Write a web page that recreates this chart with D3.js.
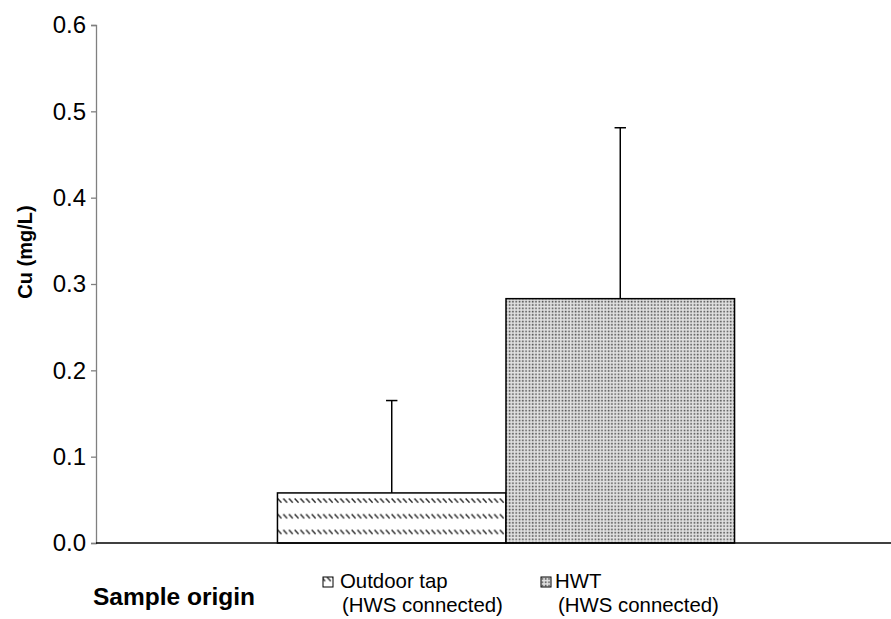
<!DOCTYPE html>
<html>
<head>
<meta charset="utf-8">
<script src="https://cdn.jsdelivr.net/npm/d3@7/dist/d3.min.js"></script>
<style>
  html, body { margin: 0; padding: 0; background: #fff; }
  svg { display: block; font-family: "Liberation Sans", Arial, sans-serif; }
</style>
</head>
<body>
<svg id="chart" width="891" height="619"></svg>
<script>
// Copper concentration by sample origin
const seriesNames = ["Outdoor tap", "HWT"];
const seriesSub = ["(HWS connected)", "(HWS connected)"];
const cuMean = [0.058, 0.283];
const cuSd = [0.107, 0.198];
const yTicks = [0.0, 0.1, 0.2, 0.3, 0.4, 0.5, 0.6];
const groupName = "Sample origin";

(function () {
const svg = d3.select("#chart");
const W = 891;
const mLeft = 96, mTop = 25, mBottom = 543, mRight = 916;

const defs = svg.append("defs");
// backslash dash pattern
const p1 = defs.append("pattern").attr("id", "pat-diag")
  .attr("patternUnits", "userSpaceOnUse").attr("width", 5.7).attr("height", 15.7)
  .attr("x", 277).attr("y", 498);
p1.append("rect").attr("width", 5.7).attr("height", 15.7).attr("fill", "#fff");
p1.append("line").attr("x1", 0.6).attr("y1", 0.5).attr("x2", 4.4).attr("y2", 4.6)
  .attr("stroke", "#2a2a2a").attr("stroke-width", 1.4);
// fine dot pattern
const p2 = defs.append("pattern").attr("id", "pat-dots")
  .attr("patternUnits", "userSpaceOnUse").attr("width", 3.3).attr("height", 3.3);
p2.append("rect").attr("width", 3.3).attr("height", 3.3).attr("fill", "#e2e2e2");
p2.append("rect").attr("x", 0.6).attr("y", 0.6).attr("width", 1.6).attr("height", 1.6).attr("fill", "#505050");
const fills = ["url(#pat-diag)", "url(#pat-dots)"];

const y = d3.scaleLinear().domain([0, 0.6]).range([mBottom, mTop]);
const xGroup = d3.scaleBand().domain([groupName]).range([mLeft, mRight]).paddingOuter(0.397).paddingInner(0);
const xSeries = d3.scaleBand().domain(seriesNames).range([0, xGroup.bandwidth()]).padding(0);
const gx = xGroup(groupName);

// bars
svg.append("g").selectAll("rect").data(seriesNames).join("rect")
  .attr("x", (d) => gx + xSeries(d))
  .attr("y", (d, i) => y(cuMean[i]))
  .attr("width", xSeries.bandwidth())
  .attr("height", (d, i) => y(0) - y(cuMean[i]))
  .attr("fill", (d, i) => fills[i])
  .attr("stroke", "#000").attr("stroke-width", 1.5);

// upper error bars
const eb = svg.append("g").attr("stroke", "#000").attr("stroke-width", 1.5);
seriesNames.forEach((d, i) => {
  const cx = gx + xSeries(d) + xSeries.bandwidth() / 2;
  eb.append("line").attr("x1", cx).attr("x2", cx)
    .attr("y1", y(cuMean[i])).attr("y2", y(cuMean[i] + cuSd[i]));
  eb.append("line").attr("x1", cx - 5.7).attr("x2", cx + 5.7)
    .attr("y1", y(cuMean[i] + cuSd[i])).attr("y2", y(cuMean[i] + cuSd[i]));
});

// y axis
const yAxis = d3.axisLeft(y).tickValues(yTicks).tickFormat(d3.format(".1f")).tickSize(5).tickPadding(5);
const ga = svg.append("g").attr("transform", `translate(${mLeft},0)`).call(yAxis);
ga.select(".domain").attr("stroke", "#808080").attr("stroke-width", 1.3);
ga.selectAll(".tick line").attr("stroke", "#808080").attr("stroke-width", 1.3);
ga.selectAll(".tick text").attr("font-size", 24).attr("fill", "#000")
  .attr("font-family", "'Liberation Sans', Arial, sans-serif");

// x axis baseline
svg.append("line").attr("x1", mLeft).attr("x2", W).attr("y1", y(0)).attr("y2", y(0))
  .attr("stroke", "#000").attr("stroke-width", 1.5);

// y axis title
svg.append("text").attr("transform", `translate(32,252) rotate(-90)`)
  .attr("text-anchor", "middle").attr("font-size", 20).attr("font-weight", "bold")
  .text("Cu (mg/L)");

// group label
svg.append("text").attr("x", 93).attr("y", 605).attr("font-size", 24.5).attr("font-weight", "bold")
  .text(groupName);

// legend
const legX = [323, 541];
const legTextDx = [17, 14];
const legSubDx = [19, 17];
seriesNames.forEach((d, i) => {
  const g = svg.append("g").attr("transform", `translate(${legX[i]},0)`);
  g.append("rect").attr("x", 0).attr("y", 577).attr("width", 10).attr("height", 10)
    .attr("fill", fills[i]).attr("stroke", "#000").attr("stroke-width", 1);
  g.append("text").attr("x", legTextDx[i]).attr("y", 588).attr("font-size", 20.4).text(d);
  g.append("text").attr("x", legSubDx[i]).attr("y", 612).attr("font-size", 20.4).text(seriesSub[i]);
});
})();
</script>
</body>
</html>
